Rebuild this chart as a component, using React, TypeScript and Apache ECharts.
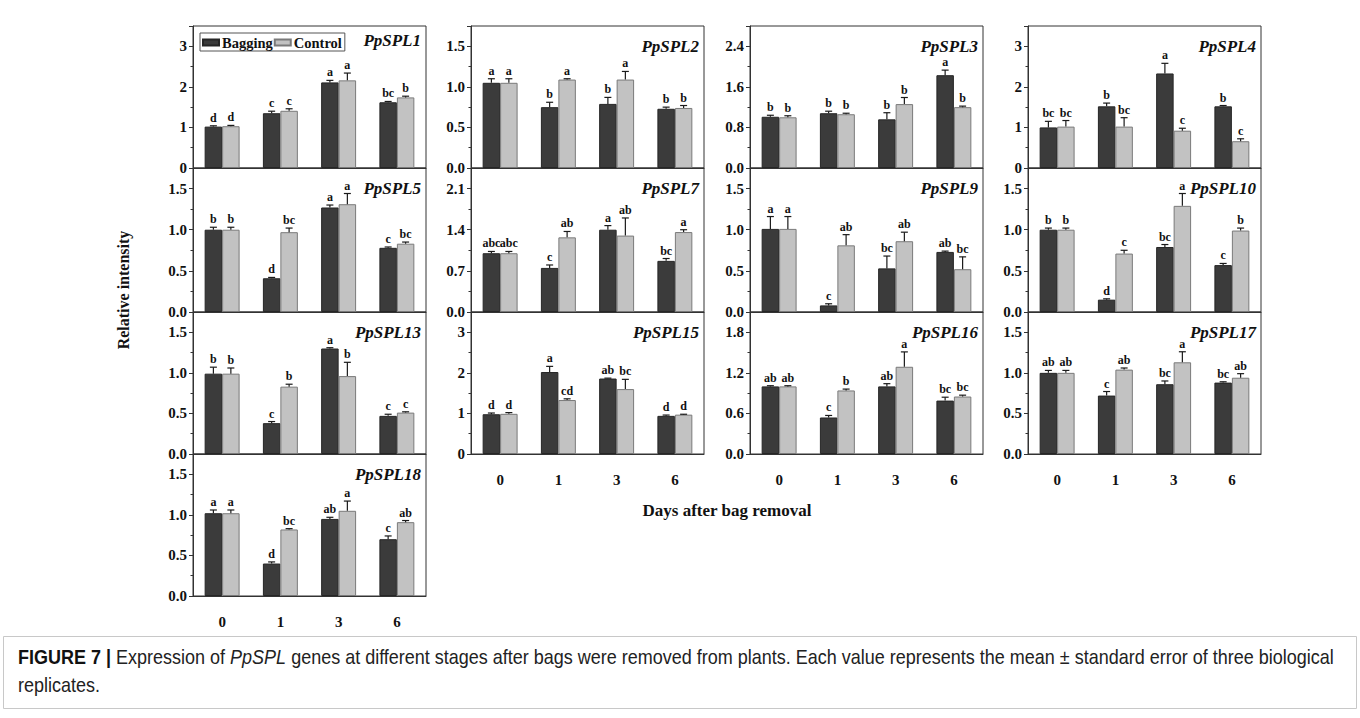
import React, { useEffect, useRef } from 'react';
import * as echarts from 'echarts';

// ---------------- data ----------------
const categories = ['0', '1', '3', '6'];
const genes = [
  'PpSPL1', 'PpSPL2', 'PpSPL3', 'PpSPL4',
  'PpSPL5', 'PpSPL7', 'PpSPL9', 'PpSPL10',
  'PpSPL13', 'PpSPL15', 'PpSPL16', 'PpSPL17',
  'PpSPL18',
];
const axisStep = [1, 0.5, 0.8, 1, 0.5, 0.7, 0.5, 0.5, 0.5, 1, 0.6, 0.5, 0.5];

const baggingMean = [
  [1.02, 1.35, 2.11, 1.62],
  [1.05, 0.75, 0.79, 0.73],
  [1.01, 1.08, 0.96, 1.83],
  [1.0, 1.52, 2.33, 1.52],
  [1.0, 0.41, 1.27, 0.78],
  [1.0, 0.75, 1.4, 0.87],
  [1.01, 0.08, 0.53, 0.73],
  [1.0, 0.15, 0.79, 0.57],
  [0.99, 0.38, 1.3, 0.47],
  [0.98, 2.02, 1.86, 0.94],
  [1.0, 0.54, 1.0, 0.79],
  [1.0, 0.72, 0.86, 0.88],
  [1.02, 0.4, 0.95, 0.7],
];
const baggingSE = [
  [0.02, 0.05, 0.05, 0.02],
  [0.05, 0.06, 0.08, 0.02],
  [0.03, 0.04, 0.13, 0.1],
  [0.15, 0.08, 0.25, 0.02],
  [0.03, 0.01, 0.03, 0.01],
  [0.03, 0.05, 0.07, 0.04],
  [0.15, 0.02, 0.15, 0.01],
  [0.02, 0.01, 0.03, 0.02],
  [0.08, 0.02, 0.01, 0.02],
  [0.03, 0.14, 0.01, 0.02],
  [0.01, 0.03, 0.04, 0.05],
  [0.03, 0.05, 0.04, 0.01],
  [0.04, 0.02, 0.02, 0.04],
];
const controlMean = [
  [1.03, 1.41, 2.16, 1.74],
  [1.05, 1.09, 1.09, 0.74],
  [1.0, 1.06, 1.26, 1.2],
  [1.02, 1.02, 0.92, 0.66],
  [1.0, 0.97, 1.31, 0.83],
  [1.0, 1.27, 1.3, 1.36],
  [1.01, 0.81, 0.86, 0.52],
  [1.0, 0.71, 1.29, 0.99],
  [0.99, 0.83, 0.96, 0.51],
  [0.99, 1.33, 1.6, 0.97],
  [1.0, 0.94, 1.29, 0.85],
  [1.0, 1.04, 1.13, 0.94],
  [1.02, 0.82, 1.05, 0.91],
];
const controlSE = [
  [0.02, 0.05, 0.18, 0.03],
  [0.05, 0.01, 0.1, 0.03],
  [0.03, 0.02, 0.13, 0.02],
  [0.15, 0.22, 0.06, 0.06],
  [0.03, 0.05, 0.13, 0.02],
  [0.03, 0.1, 0.3, 0.04],
  [0.15, 0.13, 0.11, 0.15],
  [0.02, 0.04, 0.15, 0.03],
  [0.07, 0.03, 0.17, 0.01],
  [0.03, 0.03, 0.24, 0.01],
  [0.01, 0.02, 0.22, 0.02],
  [0.03, 0.02, 0.13, 0.05],
  [0.04, 0.01, 0.12, 0.02],
];
const baggingLetters = [
  ['d', 'c', 'a', 'bc'],
  ['a', 'b', 'b', 'b'],
  ['b', 'b', 'b', 'a'],
  ['bc', 'b', 'a', 'b'],
  ['b', 'd', 'a', 'c'],
  ['abc', 'c', 'a', 'bc'],
  ['a', 'c', 'bc', 'ab'],
  ['b', 'd', 'bc', 'c'],
  ['b', 'c', 'a', 'c'],
  ['d', 'a', 'ab', 'd'],
  ['ab', 'c', 'ab', 'bc'],
  ['ab', 'c', 'bc', 'bc'],
  ['a', 'd', 'ab', 'c'],
];
const controlLetters = [
  ['d', 'c', 'a', 'b'],
  ['a', 'a', 'a', 'b'],
  ['b', 'b', 'b', 'b'],
  ['bc', 'bc', 'c', 'c'],
  ['b', 'bc', 'a', 'bc'],
  ['abc', 'ab', 'ab', 'a'],
  ['a', 'ab', 'ab', 'bc'],
  ['b', 'c', 'a', 'b'],
  ['b', 'b', 'b', 'c'],
  ['d', 'cd', 'bc', 'd'],
  ['ab', 'b', 'a', 'bc'],
  ['ab', 'ab', 'a', 'ab'],
  ['a', 'bc', 'a', 'ab'],
];
const seriesNames = ['Bagging', 'Control'];
const yAxisTitle = 'Relative intensity';
const xAxisTitle = 'Days after bag removal';
const captionLine1 =
  '{b|FIGURE 7 |} Expression of {i|PpSPL} genes at different stages after bags were removed from plants. Each value represents the mean ± standard error of three biological';
const captionLine2 = 'replicates.';

// ---------------- layout / style ----------------
const SERIF = '"Liberation Serif", "Times New Roman", serif';
const SANS = '"Liberation Sans", Arial, sans-serif';
const colLeft = [193, 471, 750, 1028];
const colW = 233;
const rowTop = [26, 168, 312, 454];
const rowH = [142, 144, 142, 142];
const DARK = '#3b3b3b';
const LIGHT = '#c2c2c2';

function errSeries(i: number, means: number[], se: number[], letters: string[], sign: number) {
  return {
    type: 'custom',
    xAxisIndex: i,
    yAxisIndex: i,
    silent: true,
    z: 5,
    encode: { x: 0, y: 1 },
    data: means.map((v, j) => [j, v, se[j]]),
    renderItem: (params: any, api: any) => {
      const j = api.value(0);
      const v = api.value(1);
      const e = api.value(2);
      const p0 = api.coord([j, v]);
      const p1 = api.coord([j, v + e]);
      const band = api.size([1, 0])[0];
      const x = p0[0] + sign * band * 0.15;
      const ls = { stroke: '#1a1a1a', lineWidth: 1.2 };
      return {
        type: 'group',
        children: [
          { type: 'line', shape: { x1: x, y1: p0[1], x2: x, y2: p1[1] }, style: ls },
          { type: 'line', shape: { x1: x - 3.5, y1: p1[1], x2: x + 3.5, y2: p1[1] }, style: ls },
          {
            type: 'text',
            x: x,
            y: p1[1] - 2,
            style: {
              text: letters[params.dataIndex],
              align: 'center',
              verticalAlign: 'bottom',
              font: `bold 12px ${SERIF}`,
              fill: '#111',
            },
          },
        ],
      };
    },
  };
}

function buildOption() {
  const grid: any[] = [];
  const xAxis: any[] = [];
  const yAxis: any[] = [];
  const series: any[] = [];
  const title: any[] = [];
  genes.forEach((g, i) => {
    const col = i % 4;
    const row = Math.floor(i / 4);
    const left = colLeft[col];
    const top = rowTop[row];
    const h = rowH[row];
    const step = axisStep[i];
    const bottomPanel = row === 3 || (row === 2 && col > 0);
    grid.push({ left, top, width: colW, height: h, show: true, borderColor: '#333', borderWidth: 1 });
    xAxis.push({
      type: 'category',
      gridIndex: i,
      data: categories,
      axisTick: { show: false },
      axisLine: { show: true, lineStyle: { color: '#333', width: 1 } },
      axisLabel: {
        show: bottomPanel,
        margin: 18,
        fontFamily: SERIF,
        fontWeight: 'bold',
        fontSize: 15,
        color: '#111',
      },
    });
    yAxis.push({
      type: 'value',
      gridIndex: i,
      min: 0,
      max: step * 3.5,
      interval: step,
      splitLine: { show: false },
      axisLine: { show: true, lineStyle: { color: '#333', width: 1 } },
      axisTick: { show: true, length: 4, lineStyle: { color: '#333' } },
      minorTick: { show: true, splitNumber: 2, length: 2.5, lineStyle: { color: '#333' } },
      axisLabel: {
        margin: 6,
        fontFamily: SERIF,
        fontWeight: 'bold',
        fontSize: 15,
        color: '#111',
        formatter: (v: number) => {
          const k = v / step;
          if (Math.abs(k - Math.round(k)) > 1e-6) return '';
          return step >= 1 ? String(Math.round(v)) : v.toFixed(1);
        },
      },
    });
    title.push({
      text: g,
      right: 1360 - (left + colW) + 5,
      top: i === 0 ? top + 6 : top + 12,
      padding: 0,
      textStyle: {
        fontFamily: SERIF,
        fontStyle: 'italic',
        fontWeight: 'bold',
        fontSize: 17,
        color: '#111',
      },
    });
    series.push({
      type: 'bar',
      name: seriesNames[0],
      xAxisIndex: i,
      yAxisIndex: i,
      data: baggingMean[i],
      barGap: '0%',
      barCategoryGap: '40%',
      itemStyle: { color: DARK, borderColor: '#262626', borderWidth: 1 },
    });
    series.push({
      type: 'bar',
      name: seriesNames[1],
      xAxisIndex: i,
      yAxisIndex: i,
      data: controlMean[i],
      barGap: '0%',
      barCategoryGap: '40%',
      itemStyle: { color: LIGHT, borderColor: '#7a7a7a', borderWidth: 1 },
    });
    series.push(errSeries(i, baggingMean[i], baggingSE[i], baggingLetters[i], -1));
    series.push(errSeries(i, controlMean[i], controlSE[i], controlLetters[i], 1));
  });

  const capFont = 20;
  const capScale = 0.9;
  const graphic: any[] = [
    {
      type: 'text',
      x: 123,
      y: 290,
      rotation: Math.PI / 2,
      style: {
        text: yAxisTitle,
        font: `bold 16px ${SERIF}`,
        fill: '#111',
        align: 'center',
        verticalAlign: 'middle',
      },
    },
    {
      type: 'text',
      x: 727,
      y: 510,
      style: {
        text: xAxisTitle,
        font: `bold 17px ${SERIF}`,
        fill: '#111',
        align: 'center',
        verticalAlign: 'middle',
      },
    },
    {
      type: 'rect',
      shape: { x: 3.5, y: 636.5, width: 1353, height: 72 },
      style: { fill: 'none', stroke: '#c8c8c8', lineWidth: 1 },
    },
    {
      type: 'text',
      x: 18,
      y: 657,
      scaleX: capScale,
      style: {
        text: captionLine1,
        fontFamily: SANS,
        fontSize: capFont,
        fill: '#222',
        align: 'left',
        verticalAlign: 'middle',
        rich: {
          b: { fontFamily: SANS, fontSize: capFont, fontWeight: 'bold', fill: '#111' },
          i: { fontFamily: SANS, fontSize: capFont, fontStyle: 'italic', fill: '#222' },
        },
      },
    },
    {
      type: 'text',
      x: 18,
      y: 685,
      scaleX: capScale,
      style: {
        text: captionLine2,
        fontFamily: SANS,
        fontSize: capFont,
        fill: '#222',
        align: 'left',
        verticalAlign: 'middle',
      },
    },
  ];

  return {
    animation: false,
    backgroundColor: '#ffffff',
    title,
    legend: {
      data: seriesNames,
      left: 200,
      top: 33,
      itemWidth: 16,
      itemHeight: 6,
      itemGap: 1,
      padding: [2, 3, 1, 2],
      borderColor: '#555',
      borderWidth: 1,
      selectedMode: false,
      icon: 'rect',
      textStyle: { fontFamily: SERIF, fontWeight: 'bold', fontSize: 14.5, color: '#111', padding: [0, 0, 0, -2] },
    },
    grid,
    xAxis,
    yAxis,
    series,
    graphic,
  };
}

export default function App() {
  const ref = useRef<HTMLDivElement>(null);
  useEffect(() => {
    const chart = echarts.init(ref.current as HTMLDivElement, null, { renderer: 'svg' });
    chart.setOption(buildOption() as any);
    return () => chart.dispose();
  }, []);
  return (
    <div
      ref={ref}
      style={{ position: 'fixed', left: 0, top: 0, width: 1360, height: 718, background: '#fff' }}
    />
  );
}
